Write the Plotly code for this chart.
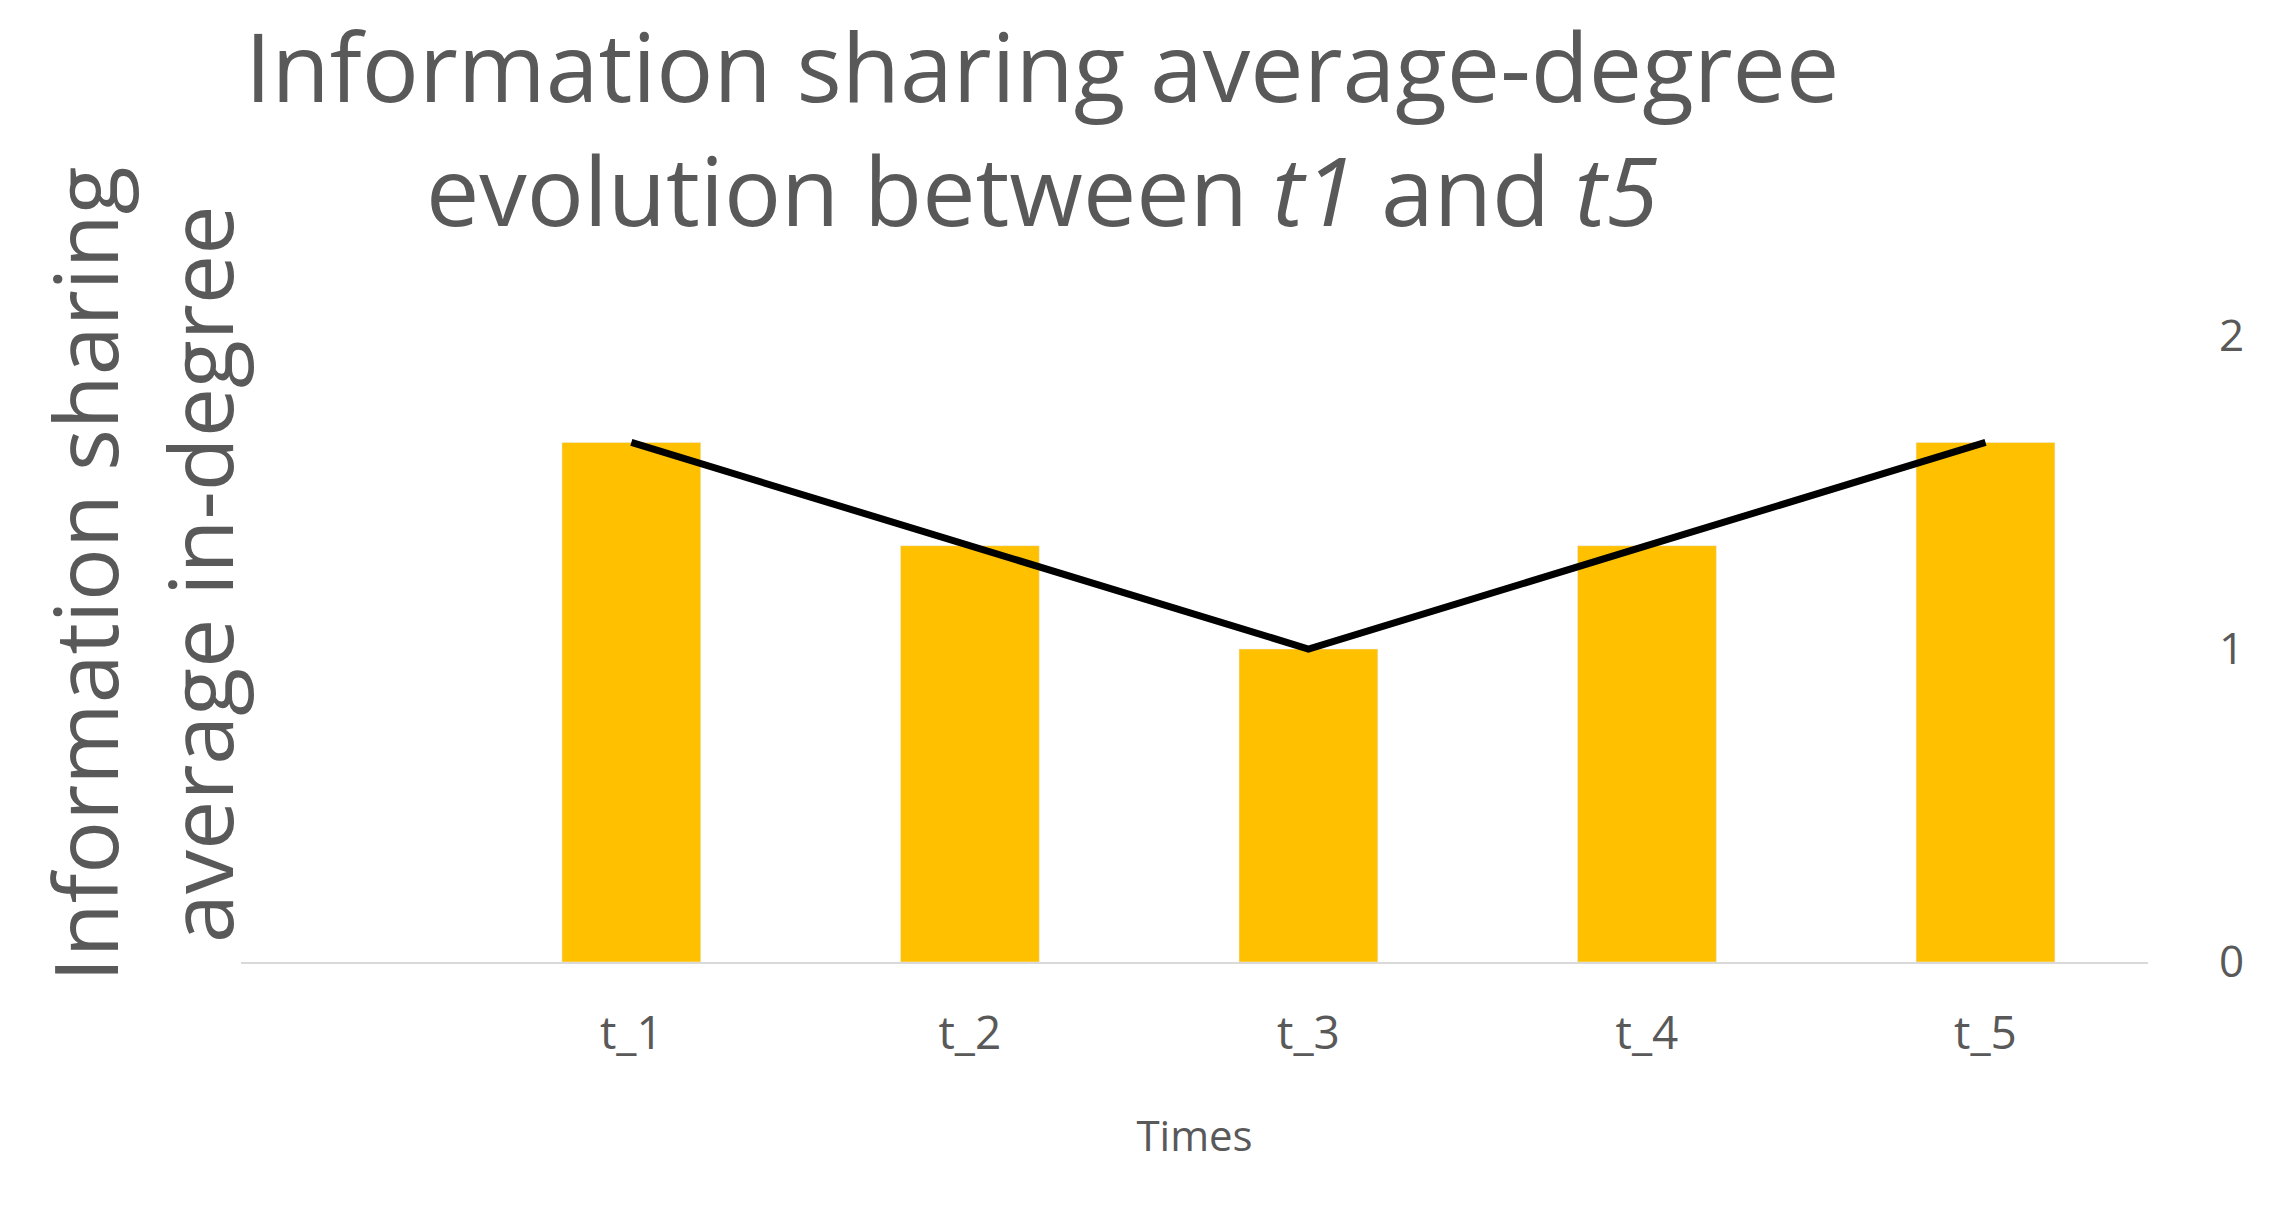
import plotly.graph_objects as go

categories = ["t_1", "t_2", "t_3", "t_4", "t_5"]
bar_values = [1.66, 1.33, 1.0, 1.33, 1.66]
line_values = [1.66, 1.33, 1.0, 1.33, 1.66]
y_ticks = [0, 1, 2]

xpos = list(range(1, len(categories) + 1))
fig = go.Figure()
fig.add_bar(x=xpos, y=bar_values, width=0.41, marker_color="#FFC000", yaxis="y")
fig.add_scatter(x=xpos, y=line_values, mode="lines", line=dict(color="black", width=7), yaxis="y")

font = "Open Sans"
fig.update_layout(
    width=2272, height=1212, showlegend=False,
    plot_bgcolor="white", paper_bgcolor="white",
    margin=dict(l=233, r=132, t=328, b=258),
    font=dict(family=font, color="#595959"),
    xaxis=dict(range=[-0.153, 5.48], tickvals=xpos, ticktext=categories,
               showgrid=False, zeroline=False, showline=True, linecolor="#D9D9D9", linewidth=2,
               tickfont=dict(size=46, color="#595959"), ticklabelstandoff=30,
               title=dict(text="Times", font=dict(size=42, color="#595959"), standoff=60)),
    yaxis=dict(range=[0, 2], side="right", tickvals=y_ticks, showgrid=False, zeroline=False,
               tickfont=dict(size=44, color="#595959"), ticklabelstandoff=70),
)
fig.add_annotation(text="Information sharing average-degree<br>evolution between <i>t1</i> and <i>t5</i>",
                   xref="paper", yref="paper", x=0.42, y=1.0, yshift=80, xanchor="center", yanchor="bottom",
                   showarrow=False, font=dict(size=95, color="#595959", family=font), align="center")
fig.add_annotation(text="Information sharing<br>average in-degree", xref="paper", yref="paper",
                   x=0, xshift=-100, y=0.62, textangle=-90, xanchor="center", yanchor="middle",
                   showarrow=False, font=dict(size=88, color="#595959", family=font), align="center")
fig.write_html("out.html")
